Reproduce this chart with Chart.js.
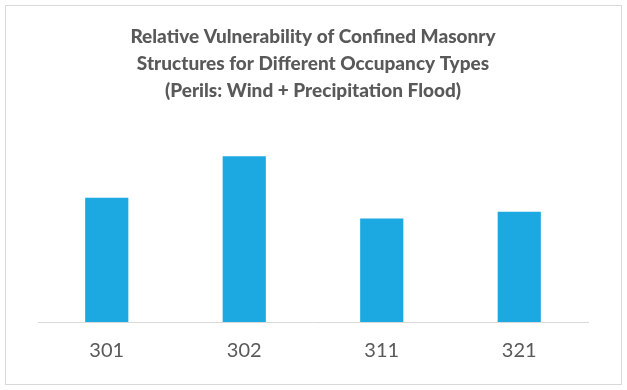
<!DOCTYPE html>
<html>
<head>
<meta charset="utf-8">
<script src="https://cdn.jsdelivr.net/npm/chart.js@4/dist/chart.umd.min.js"></script>
<style>
  html, body { margin: 0; padding: 0; background: #fff; }
  #wrap { position: relative; width: 627px; height: 390px; }
  #frame {
    position: absolute; left: 5px; top: 5px; width: 617px; height: 380px;
    box-sizing: border-box; border: 1px solid #d9d9d9; pointer-events: none;
  }
  canvas { position: absolute; left: 0; top: 0; }
</style>
</head>
<body>
<div id="wrap">
  <canvas id="barChart" width="627" height="390"></canvas>
  <div id="frame"></div>
</div>
<script>
// Data
const categories = ['301', '302', '311', '321'];
const vulnerability = [1.5, 2.0, 1.25, 1.33];
const titleLines = [
  'Relative Vulnerability of Confined Masonry',
  'Structures for Different Occupancy Types',
  '(Perils: Wind + Precipitation Flood)'
];

const ctx = document.getElementById('barChart').getContext('2d');
const barChart = new Chart(ctx, {
  type: 'bar',
  data: {
    labels: categories,
    datasets: [{
      label: 'Relative Vulnerability',
      data: vulnerability,
      backgroundColor: '#1ca8e0',
      barPercentage: 0.314,
      categoryPercentage: 1.0
    }]
  },
  options: {
    responsive: false,
    animation: false,
    layout: {padding: {left: 38, right: 39, top: 0, bottom: 10}},
    plugins: {
      legend: {display: false},
      tooltip: {enabled: false},
      title: {
        display: true,
        text: titleLines,
        color: '#595959',
        font: {family: 'Lato', size: 19, weight: 900, lineHeight: 1.42},
        padding: {top: 23, bottom: 11}
      }
    },
    scales: {
      x: {
        grid: {display: false, drawTicks: false},
        border: {display: true, color: '#d9d9d9', width: 1},
        ticks: {color: '#595959', font: {family: 'Lato', size: 20}, padding: 17}
      },
      y: {
        display: false,
        min: 0,
        max: 2.5
      }
    }
  }
});
</script>
</body>
</html>
